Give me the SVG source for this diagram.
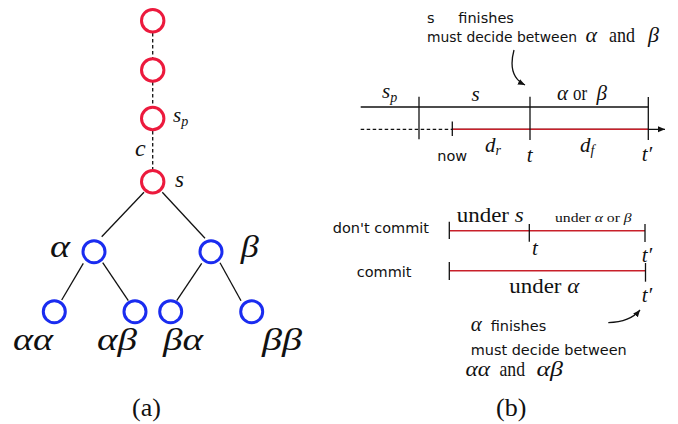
<svg xmlns="http://www.w3.org/2000/svg" width="678" height="424" viewBox="0 0 678 424">
<style>
.rn{fill:#fff;stroke:#ec1a3d;stroke-width:3}
.bn{fill:#fff;stroke:#1a2cf0;stroke-width:3}
.ln{stroke:#111;stroke-width:1.3;fill:none}
.dl{stroke:#111;stroke-width:1.3;stroke-dasharray:3.5 2.5;fill:none}
.red{stroke:#c8202a;stroke-width:1.5;fill:none}
.m{font-family:"Liberation Serif",serif;font-style:italic;fill:#111}
.r{font-family:"Liberation Serif",serif;fill:#111}
.sf{font-family:"DejaVu Sans",sans-serif;font-size:14.5px;fill:#111}
</style>
<defs>
<marker id="ah" markerWidth="8" markerHeight="8" refX="7" refY="4" orient="auto" markerUnits="userSpaceOnUse">
<path d="M0,1 L7,4 L0,7 Z" fill="#111"/>
</marker>
</defs>
<g id="connectors">
<line class="dl" x1="152.7" y1="33" x2="152.7" y2="58"/>
<line class="dl" x1="152.7" y1="82" x2="152.7" y2="106"/>
<line class="dl" x1="152.7" y1="131" x2="152.7" y2="169"/>
<line class="ln" x1="144" y1="192.3" x2="101.7" y2="236.7"/>
<line class="ln" x1="162.3" y1="192.3" x2="205" y2="238.3"/>
<line class="ln" x1="83.3" y1="263.3" x2="61.7" y2="300"/>
<line class="ln" x1="102.7" y1="262.7" x2="128.3" y2="300.7"/>
<line class="ln" x1="201.7" y1="263.3" x2="176.7" y2="300.7"/>
<line class="ln" x1="220" y1="262.7" x2="241" y2="300.7"/>
</g>
<g id="n1"><circle class="rn" cx="152.7" cy="20.7" r="11.2"/></g>
<g id="n2"><circle class="rn" cx="152.7" cy="70" r="11.2"/></g>
<g id="n-sp"><circle class="rn" cx="152.7" cy="118.5" r="11.2"/>
<text class="m" x="173" y="122" font-size="21">s<tspan font-size="14" dy="4">p</tspan></text></g>
<text class="m" x="135" y="156" font-size="24">c</text>
<g id="n-s"><circle class="rn" cx="152.7" cy="181.7" r="11.2"/>
<text class="m" x="175" y="187" font-size="23">s</text></g>
<g id="n-alpha"><circle class="bn" cx="94" cy="251.7" r="11"/>
<text class="m" x="50" y="257" font-size="32" textLength="20" lengthAdjust="spacingAndGlyphs">α</text></g>
<g id="n-beta"><circle class="bn" cx="211" cy="251.7" r="11"/>
<text class="m" x="240.7" y="257" font-size="32" textLength="18" lengthAdjust="spacingAndGlyphs">β</text></g>
<g id="n-aa"><circle class="bn" cx="54.3" cy="311.7" r="11"/>
<text class="m" x="13" y="350" font-size="32" textLength="40" lengthAdjust="spacingAndGlyphs">αα</text></g>
<g id="n-ab"><circle class="bn" cx="135" cy="311.7" r="11"/>
<text class="m" x="97" y="350" font-size="32" textLength="40" lengthAdjust="spacingAndGlyphs">αβ</text></g>
<g id="n-ba"><circle class="bn" cx="170.7" cy="311.7" r="11"/>
<text class="m" x="163" y="350" font-size="32" textLength="40" lengthAdjust="spacingAndGlyphs">βα</text></g>
<g id="n-bb"><circle class="bn" cx="251.7" cy="311.7" r="11"/>
<text class="m" x="262" y="350" font-size="32" textLength="40" lengthAdjust="spacingAndGlyphs">ββ</text></g>
<text class="r" x="132" y="416" font-size="26">(a)</text>

<g id="timeline-top">
<text class="sf" x="427" y="23">s</text>
<text class="sf" x="458.3" y="23">finishes</text>
<text class="sf" x="427" y="42" textLength="150" lengthAdjust="spacingAndGlyphs">must decide between</text>
<text class="r" y="42" font-size="22"><tspan class="m" x="585.5">α</tspan><tspan x="609" textLength="26" lengthAdjust="spacingAndGlyphs">and</tspan><tspan class="m" x="648">β</tspan></text>
<path class="ln" d="M514,50 Q507,76 525,85" marker-end="url(#ah)"/>
<line class="ln" x1="360.7" y1="107" x2="648.3" y2="107"/>
<line class="dl" x1="360.7" y1="129.3" x2="452.3" y2="129.3"/>
<line class="ln" x1="452.3" y1="129.3" x2="665" y2="129.3" marker-end="url(#ah)"/>
<line class="red" x1="452.3" y1="129.3" x2="648.3" y2="129.3"/>
<line class="ln" x1="419" y1="96.7" x2="419" y2="139.3"/>
<line class="ln" x1="530" y1="96.7" x2="530" y2="140"/>
<line class="ln" x1="648.3" y1="97" x2="648.3" y2="140"/>
<line class="ln" x1="452.3" y1="121.5" x2="452.3" y2="136"/>
<text class="m" x="382" y="98" font-size="21">s<tspan font-size="14" dy="4">p</tspan></text>
<text class="m" x="471.5" y="101" font-size="21">s</text>
<text class="r" y="100" font-size="21"><tspan class="m" x="557">α</tspan><tspan x="573" textLength="14" lengthAdjust="spacingAndGlyphs">or</tspan><tspan class="m" x="596.5">β</tspan></text>
<text class="sf" x="437.3" y="161">now</text>
<text class="m" x="485" y="152" font-size="21">d<tspan font-size="14" dy="3">r</tspan></text>
<text class="m" x="526.7" y="162" font-size="21">t</text>
<text class="m" x="580" y="152" font-size="21">d<tspan font-size="14" dy="3">f</tspan></text>
<text class="m" x="641.7" y="161" font-size="21">t′</text>
</g>

<g id="dont-commit">
<text class="sf" x="332.7" y="233.3">don't commit</text>
<line class="red" x1="449.3" y1="230.7" x2="645" y2="230.7"/>
<line class="ln" x1="449.3" y1="221.7" x2="449.3" y2="239"/>
<line class="ln" x1="529.3" y1="224" x2="529.3" y2="241.7"/>
<line class="ln" x1="645" y1="224" x2="645" y2="242"/>
<text class="r" x="456.7" y="222" font-size="21" textLength="67" lengthAdjust="spacingAndGlyphs">under <tspan class="m">s</tspan></text>
<text class="r" x="555" y="222" font-size="13" textLength="76.7" lengthAdjust="spacingAndGlyphs">under <tspan class="m">α</tspan> or <tspan class="m">β</tspan></text>
<text class="m" x="532" y="255" font-size="21">t</text>
<text class="m" x="641.7" y="261.7" font-size="21">t′</text>
</g>

<g id="commit">
<text class="sf" x="356.7" y="276.7">commit</text>
<line class="red" x1="449.3" y1="270.7" x2="645.5" y2="270.7"/>
<line class="ln" x1="449.3" y1="262" x2="449.3" y2="280"/>
<line class="ln" x1="645.5" y1="263" x2="645.5" y2="281.7"/>
<text class="r" x="509.3" y="293.3" font-size="21" textLength="70" lengthAdjust="spacingAndGlyphs">under <tspan class="m">α</tspan></text>
<text class="m" x="641.7" y="301.7" font-size="21">t′</text>
<path class="ln" d="M608.3,322.7 Q630,322 640,310" marker-end="url(#ah)"/>
<text class="m" x="470.7" y="330.7" font-size="21">α</text>
<text class="sf" x="490.7" y="330.7">finishes</text>
<text class="sf" x="470.7" y="355" textLength="156" lengthAdjust="spacingAndGlyphs">must decide between</text>
<text class="r" y="376" font-size="21"><tspan class="m" x="465.5" textLength="24.5" lengthAdjust="spacingAndGlyphs">αα</tspan><tspan x="499.5" textLength="25.5" lengthAdjust="spacingAndGlyphs">and</tspan><tspan class="m" x="536.5" textLength="26.5" lengthAdjust="spacingAndGlyphs">αβ</tspan></text>
</g>
<text class="r" x="496" y="416" font-size="26">(b)</text>
</svg>
